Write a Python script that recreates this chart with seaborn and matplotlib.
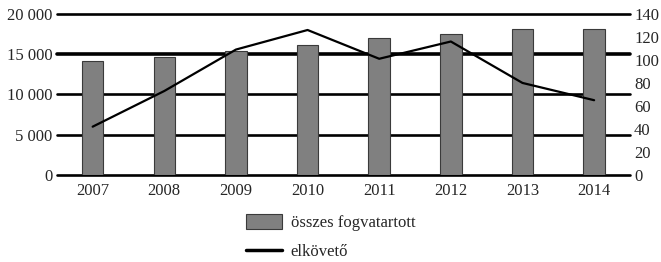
import numpy as np
import matplotlib
matplotlib.use("Agg")
import matplotlib.pyplot as plt
import seaborn as sns
from matplotlib.patches import Patch
from matplotlib.lines import Line2D

years = ["2007", "2008", "2009", "2010", "2011", "2012", "2013", "2014"]
total_detainees = [14200, 14650, 15350, 16100, 17050, 17450, 18100, 18100]
offenders = [42, 73, 109, 126, 101, 116, 80, 65]

left_ticks = [0, 5000, 10000, 15000, 20000]
left_labels = ["0", "5 000", "10 000", "15 000", "20 000"]
right_ticks = [0, 20, 40, 60, 80, 100, 120, 140]

sns.set_style("white")
plt.rcParams["font.family"] = ["Liberation Serif", "DejaVu Serif"]
plt.rcParams["font.size"] = 12

fig = plt.figure(figsize=(6.61, 2.62), dpi=100)
ax = fig.add_axes([0.086, 0.332, 0.867, 0.615])

sns.barplot(x=years, y=total_detainees, color="#808080", width=0.3,
            edgecolor="#3a3a3a", linewidth=0.8, saturation=1, ax=ax, zorder=3)
ax.set_ylim(0, 20000)
ax.set_xlim(-0.5, len(years) - 0.5)
ax.set_yticks(left_ticks)
ax.set_yticklabels(left_labels)
ax.set_axisbelow(True)
for t in left_ticks:
    ax.axhline(t, color="black", lw=2.6 if t == 15000 else 1.9, zorder=1, clip_on=False)
for s in ax.spines.values():
    s.set_visible(False)
ax.tick_params(axis="y", length=0, pad=3, labelsize=12)
ax.tick_params(axis="x", length=0, pad=6, labelsize=12)
ax.set_xlabel("")
ax.set_ylabel("")

ax2 = ax.twinx()
sns.lineplot(x=np.arange(len(years)), y=offenders, color="black", lw=1.6, ax=ax2, zorder=4)
ax2.set_ylim(0, 140)
ax2.set_yticks(right_ticks)
for s in ax2.spines.values():
    s.set_visible(False)
ax2.tick_params(axis="y", length=0, pad=3, labelsize=12)
ax2.grid(False)
ax2.set_ylabel("")

handles = [Patch(facecolor="#808080", edgecolor="#3a3a3a", linewidth=0.8),
           Line2D([0], [0], color="black", lw=2.5)]
fig.legend(handles, ["összes fogvatartott", "elkövető"], loc="upper center",
           bbox_to_anchor=(0.5, 0.24), frameon=False, ncol=1, fontsize=12,
           handlelength=2.2, handleheight=1.0, labelspacing=0.7, handletextpad=0.5)

fig.savefig("out.png", dpi=100)
